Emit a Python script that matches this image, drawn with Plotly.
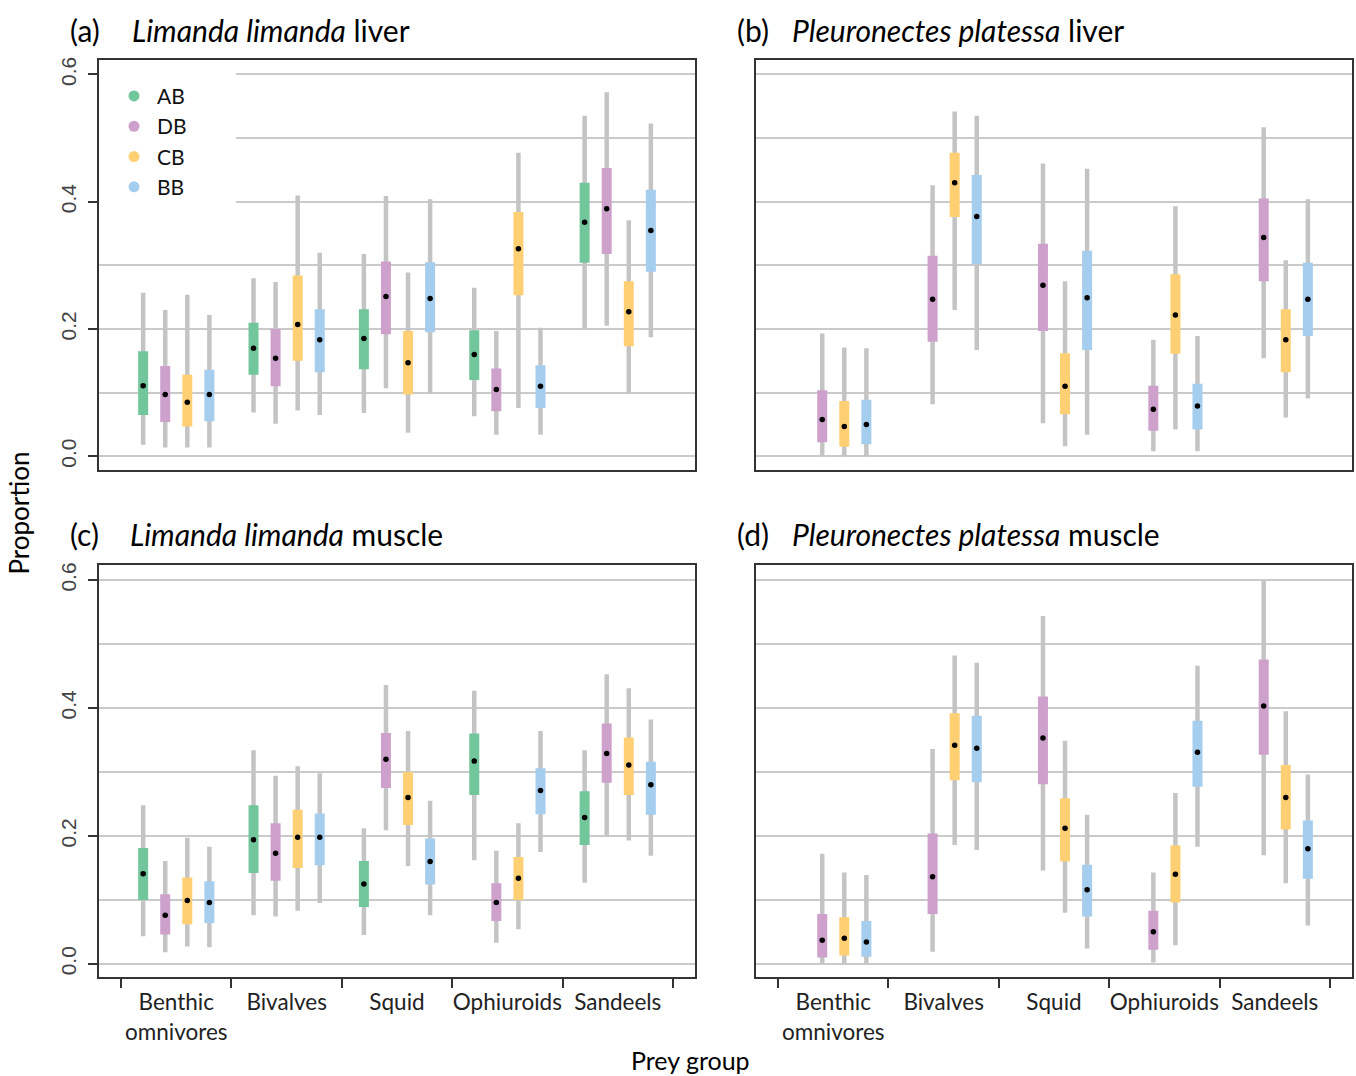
import plotly.graph_objects as go

# ---------------- data ----------------
prey = ["Benthic<br>omnivores", "Bivalves", "Squid", "Ophiuroids", "Sandeels"]
sites = ["AB", "DB", "CB", "BB"]
site_colors = ["#72C69B", "#CDA1CC", "#FFD073", "#A5CDEE"]
site_offsets = [-0.3, -0.1, 0.1, 0.3]

# (a) Limanda limanda liver  -- rows: AB, DB, CB, BB ; columns: prey groups
a_med = [[0.111, 0.170, 0.185, 0.160, 0.368], [0.097, 0.154, 0.251, 0.105, 0.389],
         [0.085, 0.207, 0.147, 0.326, 0.227], [0.097, 0.183, 0.248, 0.110, 0.355]]
a_l50 = [[0.065, 0.128, 0.137, 0.120, 0.304], [0.054, 0.110, 0.192, 0.071, 0.318],
         [0.047, 0.150, 0.097, 0.253, 0.173], [0.055, 0.132, 0.195, 0.076, 0.290]]
a_u50 = [[0.165, 0.210, 0.231, 0.198, 0.430], [0.142, 0.200, 0.306, 0.138, 0.453],
         [0.128, 0.284, 0.197, 0.384, 0.275], [0.136, 0.231, 0.305, 0.143, 0.419]]
a_l95 = [[0.018, 0.069, 0.068, 0.063, 0.200], [0.014, 0.051, 0.107, 0.034, 0.205],
         [0.014, 0.072, 0.037, 0.076, 0.098], [0.014, 0.065, 0.098, 0.034, 0.187]]
a_u95 = [[0.257, 0.280, 0.318, 0.265, 0.535], [0.230, 0.274, 0.409, 0.197, 0.572],
         [0.254, 0.410, 0.289, 0.477, 0.371], [0.222, 0.320, 0.404, 0.202, 0.523]]

# (b) Pleuronectes platessa liver (no AB)
b_med = [None, [0.058, 0.247, 0.269, 0.074, 0.344],
         [0.047, 0.430, 0.110, 0.222, 0.183], [0.050, 0.377, 0.249, 0.079, 0.247]]
b_l50 = [None, [0.022, 0.180, 0.197, 0.040, 0.275],
         [0.015, 0.376, 0.066, 0.161, 0.132], [0.019, 0.302, 0.167, 0.042, 0.189]]
b_u50 = [None, [0.104, 0.315, 0.334, 0.111, 0.405],
         [0.087, 0.477, 0.162, 0.286, 0.231], [0.089, 0.442, 0.323, 0.114, 0.304]]
b_l95 = [None, [0.0, 0.082, 0.052, 0.008, 0.154],
         [0.0, 0.230, 0.016, 0.042, 0.061], [0.0, 0.167, 0.034, 0.008, 0.091]]
b_u95 = [None, [0.193, 0.426, 0.460, 0.183, 0.517],
         [0.171, 0.542, 0.275, 0.393, 0.308], [0.170, 0.535, 0.452, 0.189, 0.404]]

# (c) Limanda limanda muscle
c_med = [[0.141, 0.194, 0.125, 0.317, 0.229], [0.076, 0.173, 0.320, 0.096, 0.329],
         [0.099, 0.198, 0.260, 0.134, 0.311], [0.096, 0.198, 0.160, 0.271, 0.280]]
c_l50 = [[0.100, 0.142, 0.089, 0.264, 0.186], [0.046, 0.130, 0.275, 0.067, 0.283],
         [0.062, 0.150, 0.217, 0.100, 0.264], [0.064, 0.154, 0.124, 0.234, 0.233]]
c_u50 = [[0.181, 0.248, 0.161, 0.360, 0.270], [0.109, 0.220, 0.361, 0.126, 0.376],
         [0.135, 0.241, 0.300, 0.167, 0.354], [0.129, 0.235, 0.196, 0.306, 0.316]]
c_l95 = [[0.043, 0.076, 0.045, 0.162, 0.127], [0.018, 0.074, 0.209, 0.033, 0.201],
         [0.027, 0.083, 0.153, 0.054, 0.193], [0.026, 0.095, 0.076, 0.175, 0.169]]
c_u95 = [[0.248, 0.334, 0.212, 0.427, 0.334], [0.161, 0.294, 0.436, 0.177, 0.453],
         [0.197, 0.309, 0.364, 0.220, 0.431], [0.183, 0.298, 0.255, 0.364, 0.382]]

# (d) Pleuronectes platessa muscle (no AB)
d_med = [None, [0.037, 0.136, 0.353, 0.050, 0.403],
         [0.040, 0.342, 0.212, 0.140, 0.260], [0.034, 0.337, 0.116, 0.331, 0.180]]
d_l50 = [None, [0.010, 0.078, 0.281, 0.022, 0.327],
         [0.013, 0.287, 0.160, 0.096, 0.210], [0.011, 0.284, 0.074, 0.277, 0.133]]
d_u50 = [None, [0.078, 0.204, 0.418, 0.083, 0.476],
         [0.073, 0.392, 0.259, 0.185, 0.311], [0.067, 0.388, 0.155, 0.380, 0.224]]
d_l95 = [None, [0.0, 0.019, 0.146, 0.002, 0.170],
         [0.0, 0.186, 0.080, 0.029, 0.126], [0.0, 0.178, 0.024, 0.183, 0.060]]
d_u95 = [None, [0.172, 0.336, 0.544, 0.143, 0.599],
         [0.143, 0.482, 0.349, 0.267, 0.395], [0.139, 0.471, 0.233, 0.466, 0.296]]

panel_labels = ["(a)", "(b)", "(c)", "(d)"]
panel_titles = ["<i>Limanda limanda</i> liver", "<i>Pleuronectes platessa</i> liver",
                "<i>Limanda limanda</i> muscle", "<i>Pleuronectes platessa</i> muscle"]

# ---------------- layout geometry ----------------
W, H = 1356, 1076
FONT = "Lato"
GRID = "#CACACA"
FRAME = "#333333"
CI_GREY = "#C4C4C4"

def px_x(p):
    return p / W

def px_y(p):
    return 1 - p / H

x_dom_left = [px_x(99), px_x(695)]
x_dom_right = [px_x(756), px_x(1352)]
y_dom_top = [px_y(468), px_y(57)]
y_dom_bot = [px_y(977), px_y(564)]

panels = [
    dict(data=(a_med, a_l50, a_u50, a_l95, a_u95), xa="x", ya="y"),
    dict(data=(b_med, b_l50, b_u50, b_l95, b_u95), xa="x2", ya="y2"),
    dict(data=(c_med, c_l50, c_u50, c_l95, c_u95), xa="x3", ya="y3"),
    dict(data=(d_med, d_l50, d_u50, d_l95, d_u95), xa="x4", ya="y4"),
]

fig = go.Figure()
groups = list(range(1, len(prey) + 1))

for p in panels:
    med, l50, u50, l95, u95 = p["data"]
    # grey 95% intervals
    gx, gy = [], []
    for s in range(len(sites)):
        if med[s] is None:
            continue
        for g in range(len(prey)):
            xv = groups[g] + site_offsets[s]
            gx += [xv, xv, None]
            gy += [l95[s][g], u95[s][g], None]
    fig.add_trace(go.Scatter(x=gx, y=gy, mode="lines", xaxis=p["xa"], yaxis=p["ya"],
                             line=dict(color=CI_GREY, width=4.5), showlegend=False,
                             hoverinfo="skip"))
    # coloured 50% intervals
    for s in range(len(sites)):
        if med[s] is None:
            continue
        cx, cy = [], []
        for g in range(len(prey)):
            xv = groups[g] + site_offsets[s]
            cx += [xv, xv, None]
            cy += [l50[s][g], u50[s][g], None]
        fig.add_trace(go.Scatter(x=cx, y=cy, mode="lines", xaxis=p["xa"], yaxis=p["ya"],
                                 line=dict(color=site_colors[s], width=10), showlegend=False,
                                 hoverinfo="skip"))
    # medians
    mx, my = [], []
    for s in range(len(sites)):
        if med[s] is None:
            continue
        for g in range(len(prey)):
            mx.append(groups[g] + site_offsets[s])
            my.append(med[s][g])
    fig.add_trace(go.Scatter(x=mx, y=my, mode="markers", xaxis=p["xa"], yaxis=p["ya"],
                             marker=dict(color="black", size=5.5), showlegend=False))

# legend entries
for s in range(len(sites)):
    fig.add_trace(go.Scatter(x=[None], y=[None], mode="markers", name=sites[s],
                             marker=dict(color=site_colors[s], size=11),
                             xaxis="x", yaxis="y", showlegend=True))

xr = [0.3, 5.7]
yr = [-0.021, 0.623]

def xaxis(domain, anchor, labels):
    d = dict(domain=domain, anchor=anchor, range=xr, showgrid=False, zeroline=False,
             showline=True, mirror=True, linecolor=FRAME, linewidth=2)
    if labels:
        d.update(tickmode="array", tickvals=groups, ticktext=prey, ticks="outside",
                 ticklen=4, tickcolor="rgba(0,0,0,0)",
                 tickfont=dict(family=FONT, size=22.5, color="#222222"),
                 minor=dict(tickmode="array", tickvals=[g - 0.5 for g in groups] + [groups[-1] + 0.5],
                            ticks="outside", ticklen=9, tickwidth=1.5, tickcolor=FRAME))
    else:
        d.update(showticklabels=False, ticks="")
    return d

def yaxis(domain, anchor, labels):
    d = dict(domain=domain, anchor=anchor, range=yr, zeroline=False,
             showline=True, mirror=True, linecolor=FRAME, linewidth=2,
             showgrid=True, gridcolor=GRID, gridwidth=1.5,
             tickmode="array", tickvals=[0, 0.2, 0.4, 0.6],
             minor=dict(tickmode="array", tickvals=[0.1, 0.3, 0.5], showgrid=True,
                        gridcolor=GRID, gridwidth=1.5, ticks=""))
    if labels:
        d.update(ticktext=["0.0", "0.2", "0.4", "0.6"], ticks="outside", ticklen=9,
                 tickwidth=1.5, tickcolor=FRAME, tickangle=-90, ticklabelstandoff=4,
                 tickfont=dict(family="Liberation Sans", size=21, color="#444444"))
    else:
        d.update(showticklabels=False, ticks="")
    return d

fig.update_layout(
    width=W, height=H, margin=dict(l=0, r=0, t=0, b=0),
    paper_bgcolor="white", plot_bgcolor="white",
    xaxis=xaxis(x_dom_left, "y", False),
    xaxis2=xaxis(x_dom_right, "y2", False),
    xaxis3=xaxis(x_dom_left, "y3", True),
    xaxis4=xaxis(x_dom_right, "y4", True),
    yaxis=yaxis(y_dom_top, "x", True),
    yaxis2=yaxis(y_dom_top, "x2", False),
    yaxis3=yaxis(y_dom_bot, "x3", True),
    yaxis4=yaxis(y_dom_bot, "x4", False),
    showlegend=True,
    legend=dict(x=px_x(111), y=px_y(73), xanchor="left", yanchor="top",
                bgcolor="rgba(0,0,0,0)", font=dict(family=FONT, size=21, color="#111111"),
                tracegroupgap=0, itemwidth=36, itemclick=False),
)

# white area behind the legend (gridlines are interrupted there)
fig.add_shape(type="rect", xref="x", yref="y", x0=xr[0], x1=1.54, y0=0.37, y1=yr[1],
              fillcolor="white", line=dict(width=0), layer="between")

# panel titles
title_pos = [(68, 130, 27), (735, 790, 27), (68, 128, 532), (735, 790, 532)]
for i, (lx, tx, ty) in enumerate(title_pos):
    fig.add_annotation(x=px_x(lx), y=px_y(ty), xref="paper", yref="paper", text=panel_labels[i],
                       showarrow=False, xanchor="left", yanchor="middle",
                       font=dict(family=FONT, size=30, color="black"))
    fig.add_annotation(x=px_x(tx), y=px_y(ty), xref="paper", yref="paper", text=panel_titles[i],
                       showarrow=False, xanchor="left", yanchor="middle",
                       font=dict(family=FONT, size=30, color="black"))

fig.add_annotation(x=px_x(19), y=px_y(512), xref="paper", yref="paper", text="Proportion",
                   textangle=-90, showarrow=False, xanchor="center", yanchor="middle",
                   font=dict(family=FONT, size=26, color="black"))
fig.add_annotation(x=px_x(690), y=px_y(1060), xref="paper", yref="paper", text="Prey group",
                   showarrow=False, xanchor="center", yanchor="middle",
                   font=dict(family=FONT, size=25, color="black"))

fig.write_html("out.html")
